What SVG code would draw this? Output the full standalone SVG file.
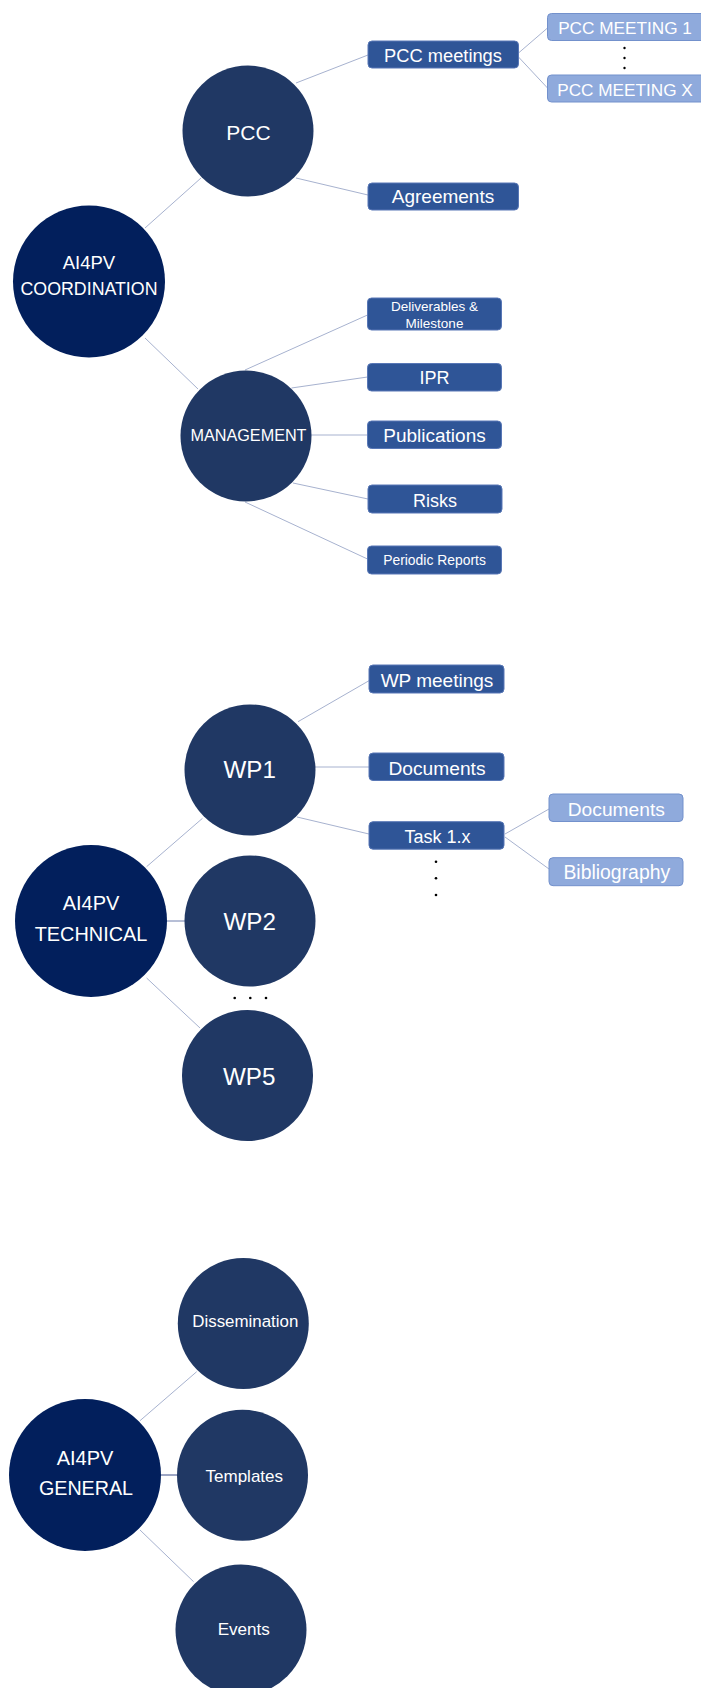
<svg xmlns="http://www.w3.org/2000/svg" width="701" height="1688" viewBox="0 0 701 1688">
<style>
.root{fill:#021f5c}
.sub{fill:#203864}
.box{fill:#2f5597;stroke:#5877b6;stroke-width:1}
.lbox{fill:#8faadc;stroke:#7391cc;stroke-width:1}
.t{fill:#ffffff;font-family:"Liberation Sans",Arial,sans-serif;text-anchor:middle}
.ln{stroke:#a7b2cf;stroke-width:1;fill:none}
.dot{fill:#000000}
</style>
<rect width="701" height="1688" fill="#ffffff"/>
<g id="connectors">
<line class="ln" x1="145" y1="228" x2="201" y2="178"/>
<line class="ln" x1="296" y1="83" x2="368" y2="55"/>
<line class="ln" x1="296" y1="178" x2="368" y2="195"/>
<line class="ln" x1="518.5" y1="53" x2="547.5" y2="28"/>
<line class="ln" x1="518.5" y1="57" x2="547.5" y2="88"/>
<line class="ln" x1="145" y1="338" x2="198" y2="389"/>
<line class="ln" x1="245" y1="370" x2="367.5" y2="315"/>
<line class="ln" x1="291.5" y1="388" x2="367.5" y2="377"/>
<line class="ln" x1="311" y1="435" x2="367.5" y2="435"/>
<line class="ln" x1="293" y1="483" x2="368" y2="499"/>
<line class="ln" x1="245" y1="502" x2="367.5" y2="559"/>
<line class="ln" x1="146.6" y1="866.7" x2="202.5" y2="818.3"/>
<line class="ln" x1="298" y1="721.7" x2="369" y2="680.7"/>
<line class="ln" x1="315" y1="767" x2="369" y2="767"/>
<line class="ln" x1="297" y1="817" x2="369" y2="834"/>
<line class="ln" x1="505" y1="834" x2="549" y2="809"/>
<line class="ln" x1="505" y1="837" x2="549" y2="869"/>
<line class="ln" x1="167" y1="921" x2="185" y2="921" style="stroke:#6f7fae"/>
<line class="ln" x1="146.6" y1="978" x2="200" y2="1028"/>
<line class="ln" x1="140" y1="1420.7" x2="196.7" y2="1371.7"/>
<line class="ln" x1="161" y1="1475" x2="177" y2="1475" style="stroke:#3d4f8a"/>
<line class="ln" x1="140" y1="1530" x2="193.6" y2="1581.7"/>
</g>
<g id="coordination">
<circle class="root" cx="89" cy="281.5" r="76"/>
<text class="t" x="89" y="269" font-size="18.5">AI4PV</text>
<text class="t" x="89" y="295" font-size="17.8">COORDINATION</text>
</g>
<g id="pcc">
<circle class="sub" cx="248" cy="131" r="65.5"/>
<text class="t" x="248.5" y="139.5" font-size="21">PCC</text>
</g>
<g id="pcc-meetings">
<rect class="box" x="368" y="41" width="150.5" height="27" rx="4"/>
<text class="t" x="443" y="61.5" font-size="18.3">PCC meetings</text>
</g>
<g id="pcc-meeting-1">
<rect class="lbox" x="547.5" y="13.5" width="160" height="27" rx="4"/>
<text class="t" x="625" y="34" font-size="17.2">PCC MEETING 1</text>
</g>
<g id="pcc-dots">
<circle class="dot" cx="624.5" cy="48" r="1.2"/>
<circle class="dot" cx="624.5" cy="58" r="1.2"/>
<circle class="dot" cx="624.5" cy="68" r="1.2"/>
</g>
<g id="pcc-meeting-x">
<rect class="lbox" x="547.5" y="75" width="160" height="27" rx="4"/>
<text class="t" x="625" y="95.5" font-size="17.2">PCC MEETING X</text>
</g>
<g id="agreements">
<rect class="box" x="368" y="183" width="150.5" height="27" rx="4"/>
<text class="t" x="443" y="203" font-size="19">Agreements</text>
</g>
<g id="management">
<circle class="sub" cx="246" cy="436" r="65.5"/>
<text class="t" x="248.5" y="441" font-size="16.2">MANAGEMENT</text>
</g>
<g id="deliverables">
<rect class="box" x="367.5" y="298" width="134" height="32" rx="4"/>
<text class="t" x="434.5" y="310.5" font-size="13.5">Deliverables &amp;</text>
<text class="t" x="434.5" y="328" font-size="13.5">Milestone</text>
</g>
<g id="ipr">
<rect class="box" x="367.5" y="363.5" width="134" height="27.5" rx="4"/>
<text class="t" x="434.5" y="384" font-size="18">IPR</text>
</g>
<g id="publications">
<rect class="box" x="367.5" y="421" width="134" height="27.5" rx="4"/>
<text class="t" x="434.5" y="441.5" font-size="19">Publications</text>
</g>
<g id="risks">
<rect class="box" x="368" y="485" width="134" height="28" rx="4"/>
<text class="t" x="435" y="506.5" font-size="18">Risks</text>
</g>
<g id="periodic-reports">
<rect class="box" x="367.5" y="546" width="134" height="28" rx="4"/>
<text class="t" x="434.5" y="565" font-size="13.9">Periodic Reports</text>
</g>
<g id="technical">
<circle class="root" cx="91" cy="921" r="76"/>
<text class="t" x="91" y="910" font-size="20">AI4PV</text>
<text class="t" x="91" y="940.5" font-size="19.9">TECHNICAL</text>
</g>
<g id="wp1">
<circle class="sub" cx="250" cy="770" r="65.5"/>
<text class="t" x="249.7" y="778" font-size="24.2">WP1</text>
</g>
<g id="wp-meetings">
<rect class="box" x="369" y="665" width="135" height="28" rx="4"/>
<text class="t" x="437" y="686.5" font-size="19">WP meetings</text>
</g>
<g id="documents">
<rect class="box" x="369" y="753" width="135" height="27.5" rx="4"/>
<text class="t" x="437" y="775" font-size="19.2">Documents</text>
</g>
<g id="task">
<rect class="box" x="369" y="821.7" width="135" height="27.5" rx="4"/>
<text class="t" x="437.5" y="842.5" font-size="18">Task 1.x</text>
</g>
<g id="task-dots">
<circle class="dot" cx="436" cy="861.7" r="1.3"/>
<circle class="dot" cx="436" cy="878.3" r="1.3"/>
<circle class="dot" cx="436" cy="895" r="1.3"/>
</g>
<g id="task-documents">
<rect class="lbox" x="549" y="794" width="134" height="27.5" rx="4"/>
<text class="t" x="616.3" y="815.5" font-size="19.2">Documents</text>
</g>
<g id="bibliography">
<rect class="lbox" x="549" y="857.7" width="134" height="28" rx="4"/>
<text class="t" x="616.8" y="879" font-size="19.4">Bibliography</text>
</g>
<g id="wp2">
<circle class="sub" cx="250" cy="921" r="65.5"/>
<text class="t" x="249.7" y="930" font-size="24.2">WP2</text>
</g>
<g id="wp-dots">
<circle class="dot" cx="234.7" cy="998" r="1.3"/>
<circle class="dot" cx="250.3" cy="998" r="1.3"/>
<circle class="dot" cx="266" cy="998" r="1.3"/>
</g>
<g id="wp5">
<circle class="sub" cx="247.5" cy="1075.5" r="65.5"/>
<text class="t" x="249.2" y="1085" font-size="24.2">WP5</text>
</g>
<g id="general">
<circle class="root" cx="85" cy="1475" r="76"/>
<text class="t" x="85" y="1465" font-size="20">AI4PV</text>
<text class="t" x="86" y="1495" font-size="19.7">GENERAL</text>
</g>
<g id="dissemination">
<circle class="sub" cx="243.3" cy="1323.5" r="65.5"/>
<text class="t" x="245.3" y="1327" font-size="16.9">Dissemination</text>
</g>
<g id="templates">
<circle class="sub" cx="242.5" cy="1475.3" r="65.5"/>
<text class="t" x="244.3" y="1482" font-size="17">Templates</text>
</g>
<g id="events">
<circle class="sub" cx="241" cy="1630" r="65.5"/>
<text class="t" x="243.8" y="1635" font-size="17.1">Events</text>
</g>
</svg>
